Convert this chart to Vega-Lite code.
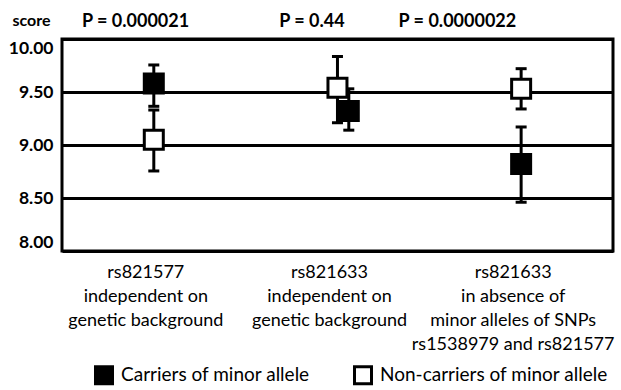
{
  "$schema": "https://vega.github.io/schema/vega-lite/v6.json",
  "width": 551,
  "height": 212,
  "autosize": {"type": "none"},
  "padding": {"left": 62, "top": 39, "right": 8, "bottom": 139},
  "background": "white",
  "title": {
    "text": "P = 0.000021\u2003\u2003\u2003\u2003\u2003\u2003\u2002P = 0.44\u2003\u2003\u2003\u2003P = 0.0000022",
    "anchor": "start",
    "frame": "group",
    "dx": 20,
    "dy": 21,
    "offset": 2,
    "font": "Lato",
    "fontSize": 18,
    "fontWeight": "bold",
    "color": "black"
  },
  "data": {
    "values": [
      {"group": "rs821577\nindependent on\ngenetic background", "series": "Carriers of minor allele", "slot": "M", "mean": 9.58, "lo": 9.365, "hi": 9.755},
      {"group": "rs821577\nindependent on\ngenetic background", "series": "Non-carriers of minor allele", "slot": "M", "mean": 9.05, "lo": 8.755, "hi": 9.33},
      {"group": "rs821633\nindependent on\ngenetic background", "series": "Non-carriers of minor allele", "slot": "M", "mean": 9.54, "lo": 9.21, "hi": 9.835},
      {"group": "rs821633\nindependent on\ngenetic background", "series": "Carriers of minor allele", "slot": "R", "mean": 9.32, "lo": 9.14, "hi": 9.53},
      {"group": "rs821633\nin absence of\nminor alleles of SNPs\nrs1538979 and rs821577", "series": "Non-carriers of minor allele", "slot": "M", "mean": 9.53, "lo": 9.34, "hi": 9.72},
      {"group": "rs821633\nin absence of\nminor alleles of SNPs\nrs1538979 and rs821577", "series": "Carriers of minor allele", "slot": "M", "mean": 8.82, "lo": 8.46, "hi": 9.17}
    ]
  },
  "encoding": {
    "x": {
      "field": "group",
      "type": "nominal",
      "sort": null,
      "scale": {"paddingInner": 0, "paddingOuter": 0},
      "axis": {
        "title": null,
        "labelAngle": 0,
        "labelExpr": "split(datum.label, '\\n')",
        "labelFont": "Lato",
        "labelFontSize": 18,
        "labelLineHeight": 24,
        "labelColor": "black",
        "labelPadding": 12,
        "labelOffset": -8,
        "labelLimit": 300,
        "ticks": false,
        "domain": false
      }
    },
    "xOffset": {
      "field": "slot",
      "type": "nominal",
      "scale": {"type": "point", "domain": ["L", "M", "R"], "range": [74.8, 108.8]}
    }
  },
  "layer": [
    {
      "mark": {"type": "rule", "color": "black", "strokeWidth": 3},
      "encoding": {
        "y": {
          "field": "lo",
          "type": "quantitative",
          "scale": {"domain": [8, 10], "nice": false, "zero": false},
          "axis": {
            "title": "score",
            "titleAngle": 0,
            "titleAlign": "left",
            "titleBaseline": "alphabetic",
            "titleX": -50,
            "titleY": -14,
            "titleFont": "Lato",
            "titleFontSize": 16,
            "titleFontWeight": "bold",
            "titleColor": "black",
            "values": [8, 8.5, 9, 9.5, 10],
            "format": ".2f",
            "labelFont": "Lato",
            "labelFontSize": 17.5,
            "labelFontWeight": "bold",
            "labelColor": "black",
            "labelPadding": 9,
            "labelFlush": true,
            "ticks": false,
            "domain": false,
            "grid": true,
            "gridColor": "black",
            "gridWidth": 3,
            "gridOpacity": 1
          }
        },
        "y2": {"field": "hi"}
      }
    },
    {
      "mark": {"type": "tick", "color": "black", "size": 11, "thickness": 3, "opacity": 1},
      "encoding": {"y": {"field": "lo", "type": "quantitative"}}
    },
    {
      "mark": {"type": "tick", "color": "black", "size": 11, "thickness": 3, "opacity": 1},
      "encoding": {"y": {"field": "hi", "type": "quantitative"}}
    },
    {
      "mark": {"type": "square", "size": 361, "stroke": "black", "strokeWidth": 3, "opacity": 1, "filled": true},
      "encoding": {
        "y": {"field": "mean", "type": "quantitative"},
        "fill": {
          "field": "series",
          "type": "nominal",
          "scale": {"domain": ["Carriers of minor allele", "Non-carriers of minor allele"], "range": ["black", "white"]},
          "legend": {
            "title": null,
            "orient": "none",
            "direction": "horizontal",
            "legendX": 32,
            "legendY": 326,
            "symbolType": "square",
            "symbolSize": 289,
            "symbolStrokeColor": "black",
            "symbolStrokeWidth": 3,
            "labelFont": "Lato",
            "labelFontSize": 19,
            "labelColor": "black",
            "labelOffset": 7,
            "labelLimit": 400,
            "columnPadding": 38
          }
        }
      }
    }
  ],
  "config": {
    "view": {"stroke": "black", "strokeWidth": 3},
    "font": "Lato"
  }
}
